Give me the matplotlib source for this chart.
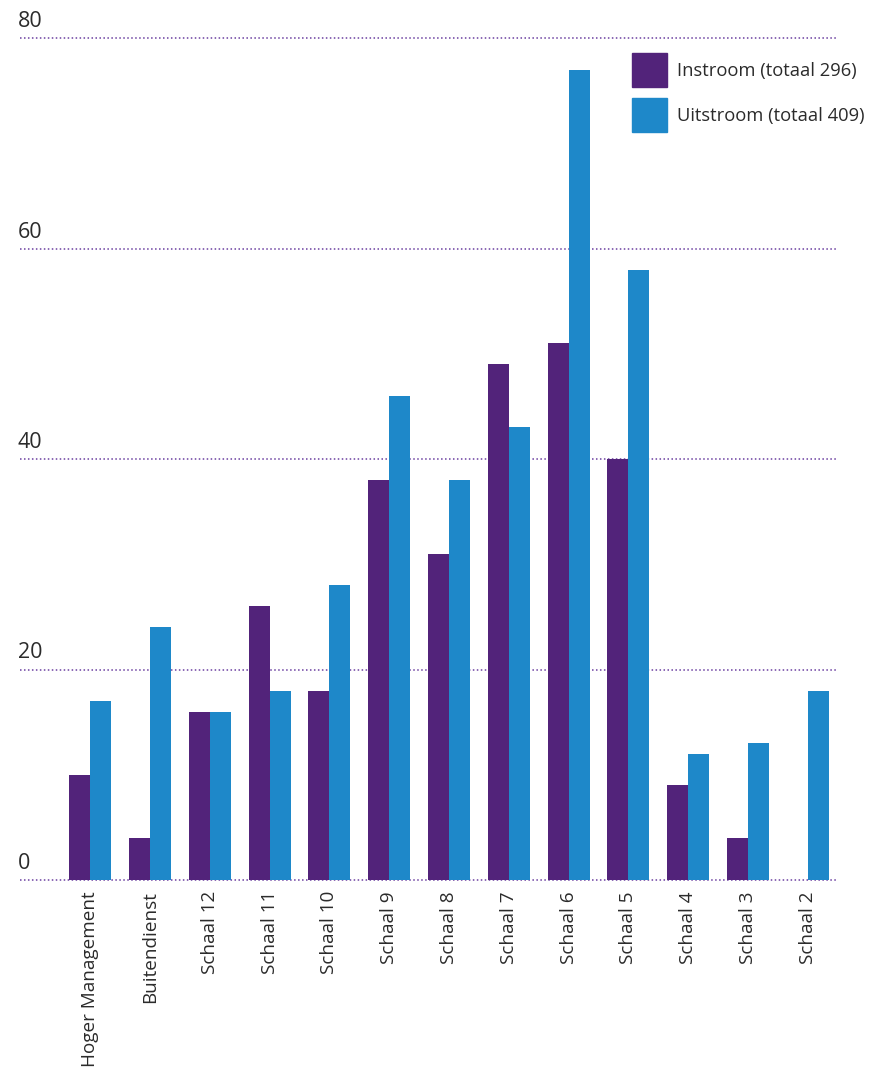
import numpy as np
import matplotlib
matplotlib.use("Agg")
from matplotlib import pyplot as plt
from matplotlib.patches import Rectangle

# Data
categories = ["Hoger Management", "Buitendienst", "Schaal 12", "Schaal 11", "Schaal 10",
              "Schaal 9", "Schaal 8", "Schaal 7", "Schaal 6", "Schaal 5",
              "Schaal 4", "Schaal 3", "Schaal 2"]
instroom = [10, 4, 16, 26, 18, 38, 31, 49, 51, 40, 9, 4, 0]
uitstroom = [17, 24, 16, 18, 28, 46, 38, 43, 77, 58, 12, 13, 18]
labels = ["Instroom (totaal 296)", "Uitstroom (totaal 409)"]
y_ticks = [0, 20, 40, 60, 80]

PURPLE = "#52237a"
BLUE = "#1e88c9"
TEXT = "#2b2b2b"
GRID = "#6b3fa0"

plt.rcParams['font.family'] = ['Open Sans', 'DejaVu Sans']

W, H = 878, 1069
fig = plt.figure(figsize=(W / 100, H / 100), dpi=100)

# axes: x from 20 to 838 px, y=0 at 880 px, y=80 at 38 px
ax = fig.add_axes([20 / W, (H - 880) / H, 818 / W, (880 - 38) / H])
ax.set_ylim(0, 80)
step = 59.78
ax.set_xlim((20 - 90.3) / step, (838 - 90.3) / step)

x = np.arange(len(categories))
bw = 21 / step
ax.bar(x - bw / 2, instroom, width=bw, color=PURPLE, zorder=2)
ax.bar(x + bw / 2, uitstroom, width=bw, color=BLUE, zorder=2)

# dotted gridlines + labels sitting above them
for v in y_ticks:
    ax.axhline(v, color=GRID, linestyle=(0, (1, 1.6)), linewidth=1.1, zorder=1, clip_on=False)
    ax.annotate(str(v), xy=(0, v), xycoords=('axes fraction', 'data'),
                xytext=(-2, 6), textcoords='offset pixels',
                ha='left', va='bottom', fontsize=15.5, color=TEXT)

ax.set_xticks(x)
ax.set_xticklabels(categories, rotation=90, ha='center', va='top', fontsize=13.6, color=TEXT)
ax.tick_params(axis='x', length=0, pad=8)
ax.set_yticks([])
for s in ax.spines.values():
    s.set_visible(False)

# legend drawn by hand
for i, (lab, col) in enumerate(zip(labels, [PURPLE, BLUE])):
    top = 53 + i * 45
    fig.patches.append(Rectangle((632 / W, (H - top - 34) / H), 35 / W, 34 / H,
                                 transform=fig.transFigure, color=col))
    fig.text(677 / W, (H - top - 18) / H, lab, ha='left', va='center',
             fontsize=13.2, color=TEXT)

fig.savefig("out.png", dpi=100)
